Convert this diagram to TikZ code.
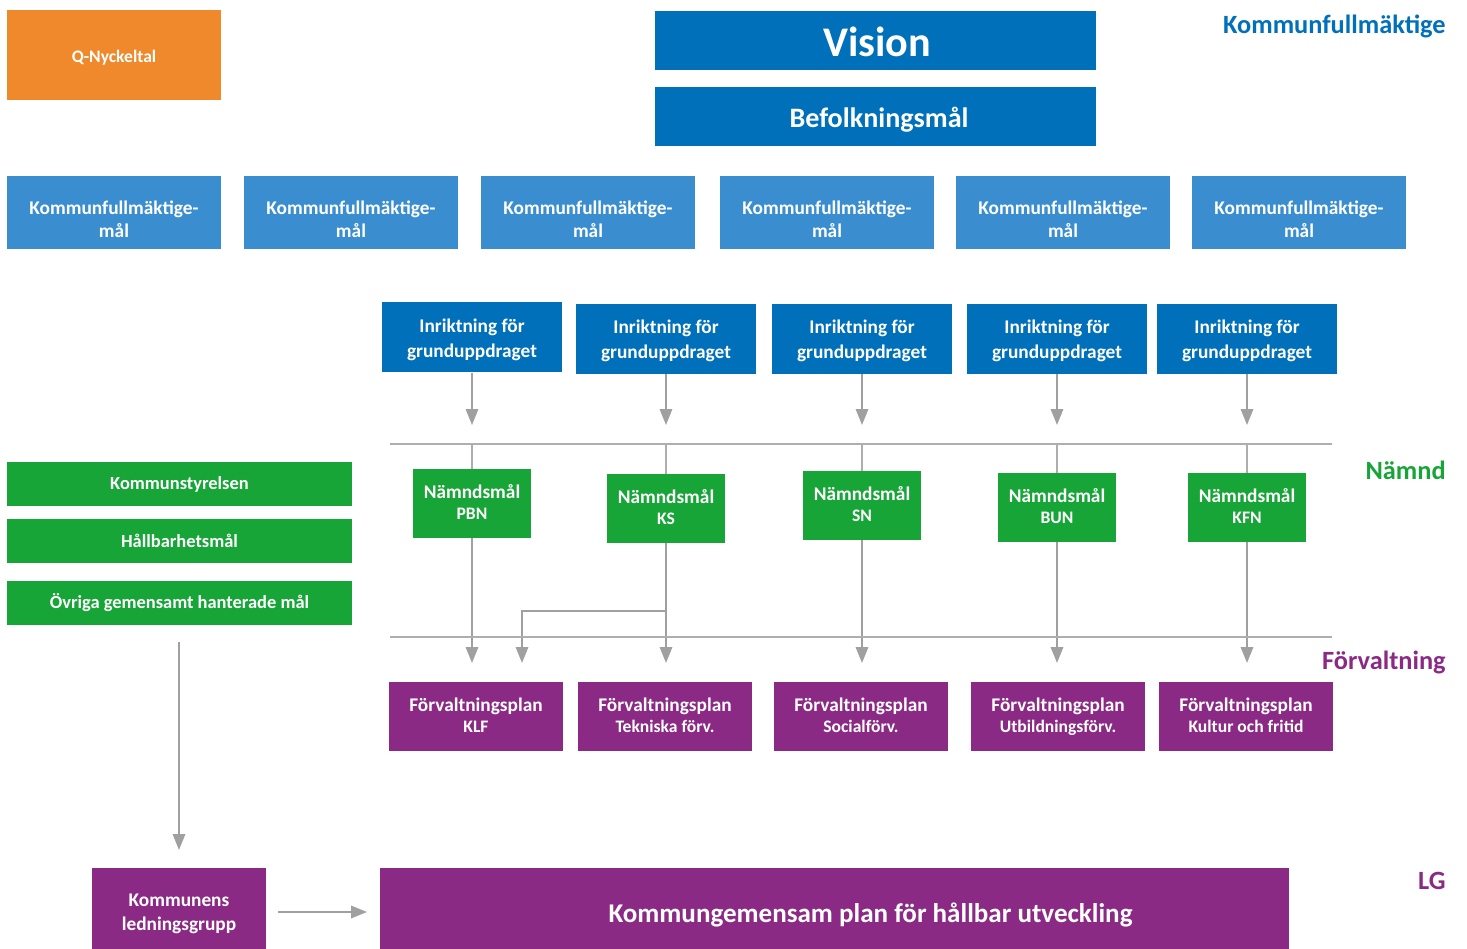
\documentclass[tikz,border=0pt]{standalone}
\usepackage{fontspec}
\setmainfont{Carlito}
\usetikzlibrary{arrows.meta,positioning}
\definecolor{qorange}{HTML}{F0892B}
\definecolor{kfblue}{HTML}{0070BA}
\definecolor{kfmalblue}{HTML}{3A8ECF}
\definecolor{nmgreen}{HTML}{17A537}
\definecolor{fvpurple}{HTML}{8B2A84}
\definecolor{conngray}{HTML}{A0A0A0}
\tikzset{
box/.style = {align=center, inner sep=0pt, text centered, text=white, font=\bfseries},
q_box/.style = {box, fill=qorange, minimum width=214*0.02cm, minimum height=90*0.02cm, text height=9.6pt, text depth=1pt, font=\bfseries\fontsize{10}{12}\selectfont},% nyckeltal
top_box/.style = {box, fill=kfblue, minimum width=441*0.02cm, minimum height=59*0.02cm},% vision, befolkning
kf_box/.style = {box, fill=kfmalblue, minimum width=214*0.02cm, minimum height=73*0.02cm, text height=29pt, text depth=0pt, font=\bfseries\fontsize{11}{13.6}\selectfont},% kf-mal
inr_box/.style = {box, fill=kfblue, minimum width=180*0.02cm, minimum height=70*0.02cm, text height=24.4pt, text depth=2.2pt, font=\bfseries\fontsize{11}{14}\selectfont},% inriktning
nm_box/.style = {box, fill=nmgreen, minimum width=118*0.02cm, minimum height=69*0.02cm, text height=17.7pt, text depth=0pt, font=\bfseries\fontsize{11}{12.5}\selectfont},% namndsmal
ks_box/.style = {box, fill=nmgreen, minimum width=345*0.02cm, minimum height=44*0.02cm, font=\bfseries\fontsize{10.5}{12}\selectfont},% kommunstyrelsen
fv_box/.style = {box, fill=fvpurple, minimum width=174*0.02cm, minimum height=69*0.02cm, text height=17.7pt, text depth=0pt, font=\bfseries\fontsize{11}{12.5}\selectfont},% forvaltningsplan
lvl/.style = {anchor=east, inner sep=0pt, font=\bfseries\fontsize{15}{18}\selectfont},% nivaer till hoger
conn/.style = {draw=conngray, line width=1.1pt, -{Triangle[width=7pt,length=9pt]}},
sep/.style = {draw=conngray!85, line width=1.3pt}
}
\newcommand{\sub}[1]{\\[-1pt]{\fontsize{10}{12}\selectfont #1}}
\begin{document}
\begin{tikzpicture}[x=0.02cm,y=-0.02cm]
  \useasboundingbox (0,0) rectangle (1467,949);
  % top
  \node [q_box] (qn) at (114,55) {Q-Nyckeltal};
  \node [top_box, text height=18.7pt, text depth=0pt, font=\bfseries\fontsize{24}{28}\selectfont] (vision) at (875.5,40.5) {\hspace*{2pt}Vision};
  \node [top_box, text height=16.1pt, text depth=3.2pt, font=\bfseries\fontsize{16}{19}\selectfont] (befolk) at (875.5,116.5) {\hspace*{4pt}Befolkningsmål};
  \node [lvl, text=kfblue] (lkf) at (1446,26) {Kommunfullmäktige};
  % kf-mal
  \foreach \x [count=\i] in {114,351,588,827,1063,1299}
    \node [kf_box] (kf\i) at (\x,212.5) {Kommunfullmäktige-\\mål};
  % inriktning, namndsmal
  \foreach \x/\yi/\yn/\nm [count=\i] in {472/337.5/503.5/PBN, 666/339/508.5/KS, 862/339/505.5/SN, 1057/339/507.5/BUN, 1247/339/507.5/KFN}{
    \node [inr_box] (inr\i) at (\x,\yi) {Inriktning för\\grunduppdraget};
    \node [nm_box] (nm\i) at (\x,\yn) {Nämndsmål\sub{\nm}};
    \coordinate (a\i) at (\x,425);
    \coordinate (b\i) at (\x,444);
    \coordinate (c\i) at (\x,663);
    \draw [conn] (inr\i) -- (a\i);
    \draw [sep] (b\i) -- (nm\i);
    \draw [conn] (nm\i) -- (c\i);
  }
  % forvaltningsplaner
  \node [fv_box] (fv1) at (476,716.5) {Förvaltningsplan\sub{KLF}};
  \node [fv_box] (fv2) at (665,716.5) {Förvaltningsplan\sub{Tekniska förv.}};
  \node [fv_box] (fv3) at (861,716.5) {Förvaltningsplan\sub{Socialförv.}};
  \node [fv_box] (fv4) at (1058,716.5) {Förvaltningsplan\sub{Utbildningsförv.}};
  \node [fv_box] (fv5) at (1246,716.5) {Förvaltningsplan\sub{Kultur och fritid}};
  % ks till klf
  \coordinate (ksturn) at (666,611);
  \coordinate (klf2) at (522,663);
  \draw [conn] (ksturn) -| (klf2);
  % nivalinjer
  \coordinate (namnd_l) at (390,444);
  \coordinate (namnd_r) at (1332,444);
  \coordinate (forv_l) at (390,637);
  \coordinate (forv_r) at (1332,637);
  \draw [sep] (namnd_l) -- (namnd_r);
  \draw [sep] (forv_l) -- (forv_r);
  \node [lvl, text=nmgreen] (lnm) at (1446,470) {Nämnd};
  \node [lvl, text=fvpurple] (lfv) at (1446,662) {Förvaltning};
  \node [lvl, text=fvpurple] (llg) at (1446,881) {LG};
  % vanster
  \node [ks_box] (ks) at (179.5,484) {Kommunstyrelsen};
  \node [ks_box] (hb) at (179.5,541) {Hållbarhetsmål};
  \node [ks_box] (ov) at (179.5,603) {Övriga gemensamt hanterade mål};
  \coordinate (ov_s) at (179,642);
  \coordinate (lg_n) at (179,850);
  \draw [conn] (ov_s) -- (lg_n);
  % ledningsgrupp
  \node [fv_box, minimum height=81*0.02cm, text height=27.2pt, text depth=2.2pt, font=\bfseries\fontsize{11}{13.6}\selectfont] (lg) at (179,908.5) {Kommunens\\ledningsgrupp};
  \node [fv_box, minimum width=909*0.02cm, minimum height=81*0.02cm, text height=19.1pt, text depth=3.1pt, font=\bfseries\fontsize{15.4}{18}\selectfont] (plan) at (834.5,908.5) {\hspace*{41pt}Kommungemensam plan för hållbar utveckling};
  \coordinate (lg_e) at (278,912);
  \coordinate (plan_w) at (367,912);
  \draw [conn] (lg_e) -- (plan_w);
\end{tikzpicture}
\end{document}
